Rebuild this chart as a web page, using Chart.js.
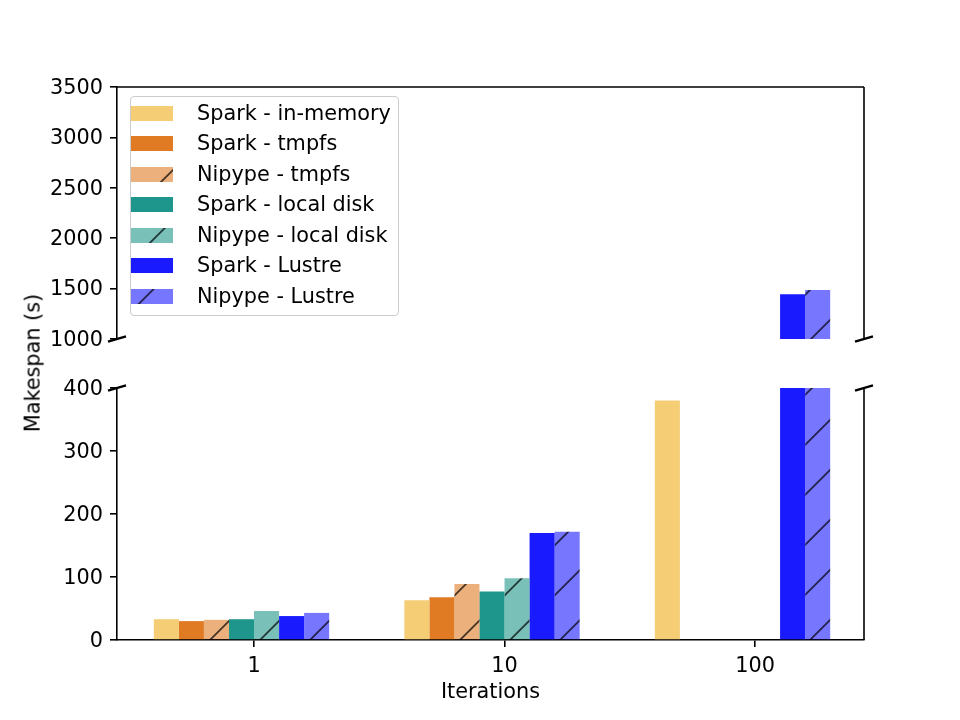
<!DOCTYPE html>
<html>
<head>
<meta charset="utf-8">
<script src="https://cdn.jsdelivr.net/npm/chart.js@4.4.0/dist/chart.umd.min.js"></script>
<style>
  html, body { margin: 0; padding: 0; background: #fff; }
  #wrap { position: relative; width: 960px; height: 720px; font-family: "DejaVu Sans", sans-serif; color: #000; }
  #wrap canvas { position: absolute; left: 0; top: 0; }
  #legend {
    position: absolute; left: 130px; top: 96px; width: 269px; height: 220px;
    box-sizing: border-box; border: 1.5px solid #cccccc; border-radius: 4px;
    background: rgba(255, 255, 255, 0.8);
  }
  .row { position: absolute; left: 0; height: 15px; line-height: 15px; font-size: 20.8px; white-space: nowrap; }
  .row canvas { position: absolute; left: 7px; top: 0; }
  .row span { position: absolute; left: 66px; top: 0; }
  #yTitle {
    position: absolute; left: 33px; top: 363px; font-size: 20.8px; line-height: 1; white-space: nowrap;
    transform: translate(-50%, -50%) rotate(-90deg);
  }
</style>
</head>
<body>
<div id="wrap">
  <canvas id="topChart" width="960" height="720"></canvas>
  <canvas id="bottomChart" width="960" height="720"></canvas>
  <div id="legend"></div>
  <div id="yTitle">Makespan (s)</div>
</div>
<script>
// Datos
const categories = ['1', '10', '100'];
const seriesLabels = [
    'Spark - in-memory', 'Spark - tmpfs', 'Nipype - tmpfs',
    'Spark - local disk', 'Nipype - local disk', 'Spark - Lustre', 'Nipype - Lustre'
];
const sparkInMemory = [33, 63, 380];
const sparkTmpfs = [30, 68, null];
const nipypeTmpfs = [32, 89, null];
const sparkLocalDisk = [33, 77, null];
const nipypeLocalDisk = [46, 98, null];
const sparkLustre = [38, 170, 1443];
const nipypeLustre = [43, 172, 1486];
const topTicks = [1000, 1500, 2000, 2500, 3000, 3500];
const bottomTicks = [0, 100, 200, 300, 400];

const seriesValues = [sparkInMemory, sparkTmpfs, nipypeTmpfs, sparkLocalDisk, nipypeLocalDisk, sparkLustre, nipypeLustre];
const seriesColors = ['#f4cd74', '#e07b24', 'rgba(224,123,36,0.6)', '#1f968b', 'rgba(31,150,139,0.6)', '#1a1aff', 'rgba(26,26,255,0.6)'];
const seriesHatched = [false, false, true, false, true, false, true];

const HATCH = 50;
const font = { family: 'DejaVu Sans', size: 20.8 };
Chart.defaults.font.family = 'DejaVu Sans';
Chart.defaults.font.size = 20.8;
Chart.defaults.color = '#000';

// Rayado "/" anclado a la página
function drawHatch(c, w, h, ox, oy) {
    const shift = ((ox + oy) % HATCH + HATCH) % HATCH;
    c.save();
    c.strokeStyle = 'rgba(0,0,0,0.7)';
    c.lineWidth = 1.8;
    c.beginPath();
    for (let s = -shift; s <= w + h + HATCH; s += HATCH) {
        c.moveTo(s + 2, -2);
        c.lineTo(s - h - 2, h + 2);
    }
    c.stroke();
    c.restore();
}

function makeFill(ctx, color, hatched) {
    if (!hatched) return color;
    const tile = document.createElement('canvas');
    tile.width = tile.height = HATCH;
    const t = tile.getContext('2d');
    t.fillStyle = color;
    t.fillRect(0, 0, HATCH, HATCH);
    drawHatch(t, HATCH, HATCH, 0, 0);
    return ctx.createPattern(tile, 'repeat');
}

function buildDatasets(ctx) {
    const sets = seriesValues.map((values, k) => ({
        label: seriesLabels[k],
        data: values.map((v, i) => ({ x: i, y: v })),
        backgroundColor: makeFill(ctx, seriesColors[k], seriesHatched[k]),
        borderWidth: 0,
        clip: 0
    }));
    // hueco vacío para que el tick quede entre la 4ª y 5ª barra
    sets.push({ label: '', data: [], clip: 0 });
    return sets;
}

function xAxis(show) {
    return {
        type: 'linear', min: -0.547, max: 2.435, offset: false, display: show,
        afterBuildTicks: s => { s.ticks = categories.map((c, i) => ({ value: i })); },
        afterFit: s => { s.height = show ? 80 : 0; },
        ticks: { callback: v => categories[v], font, color: '#000', padding: 7, maxRotation: 0, autoSkip: false },
        grid: { offset: false, drawOnChartArea: false, tickLength: 7, color: '#000', lineWidth: 1.6 },
        border: { display: true, color: '#000', width: 1.6 },
        title: { display: true, text: 'Iterations', font, color: '#000', padding: { top: 0, bottom: 14.7 } }
    };
}

function yAxis(min, max, tickList) {
    return {
        type: 'linear', min, max, beginAtZero: false,
        afterBuildTicks: s => { s.ticks = tickList.map(v => ({ value: v })); },
        afterFit: s => { s.width = 117; },
        ticks: { callback: v => String(v), font, color: '#000', padding: 7, labelOffset: 1.5 },
        grid: { drawOnChartArea: false, tickLength: 7, color: '#000', lineWidth: 1.6 },
        border: { display: true, color: '#000', width: 1.6 }
    };
}

// Ejes restantes y marcas de corte
const spines = {
    id: 'spines',
    afterDraw(chart, args, opts) {
        const { ctx, chartArea: a } = chart;
        ctx.save();
        ctx.strokeStyle = '#000';
        ctx.lineWidth = 1.6;
        ctx.beginPath();
        ctx.moveTo(a.right, a.top);
        ctx.lineTo(a.right, a.bottom);
        if (opts.topLine) {
            ctx.moveTo(a.left, a.top);
            ctx.lineTo(a.right, a.top);
        }
        ctx.stroke();
        const y = opts.cut === 'bottom' ? a.bottom : a.top;
        ctx.lineWidth = 2.5;
        ctx.beginPath();
        [a.left, a.right].forEach(x => {
            ctx.moveTo(x - 9, y + 2.6);
            ctx.lineTo(x + 9, y - 2.6);
        });
        ctx.stroke();
        ctx.restore();
    }
};

function makeChart(id, yCfg, showX, padding, spineOpts) {
    const canvas = document.getElementById(id);
    const ctx = canvas.getContext('2d');
    return new Chart(ctx, {
        type: 'bar',
        data: { datasets: buildDatasets(ctx) },
        options: {
            responsive: false,
            animation: false,
            devicePixelRatio: 1,
            layout: { padding },
            datasets: { bar: { categoryPercentage: 0.8, barPercentage: 1.0 } },
            scales: { x: xAxis(showX), y: yCfg },
            plugins: {
                legend: { display: false },
                tooltip: { enabled: false },
                spines: spineOpts
            }
        },
        plugins: [spines]
    });
}

makeChart('topChart', yAxis(1000, 3500, topTicks), false,
    { left: 0, right: 96, top: 87, bottom: 381 }, { cut: 'bottom', topLine: true });
makeChart('bottomChart', yAxis(0, 400, bottomTicks), true,
    { left: 0, right: 96, top: 388, bottom: 0 }, { cut: 'top', topLine: false });

// Leyenda
function buildLegend() {
    const box = document.getElementById('legend');
    seriesLabels.forEach((label, k) => {
        const row = document.createElement('div');
        row.className = 'row';
        const top = 8.5 + k * 30.55;
        row.style.top = top + 'px';
        const sw = document.createElement('canvas');
        sw.width = 42;
        sw.height = 15;
        const c = sw.getContext('2d');
        c.fillStyle = seriesColors[k];
        c.fillRect(0, 0, 42, 15);
        if (seriesHatched[k]) drawHatch(c, 42, 15, 138, 106 + k * 30.55);
        const text = document.createElement('span');
        text.textContent = label;
        row.appendChild(sw);
        row.appendChild(text);
        box.appendChild(row);
    });
}
buildLegend();
</script>
</body>
</html>
